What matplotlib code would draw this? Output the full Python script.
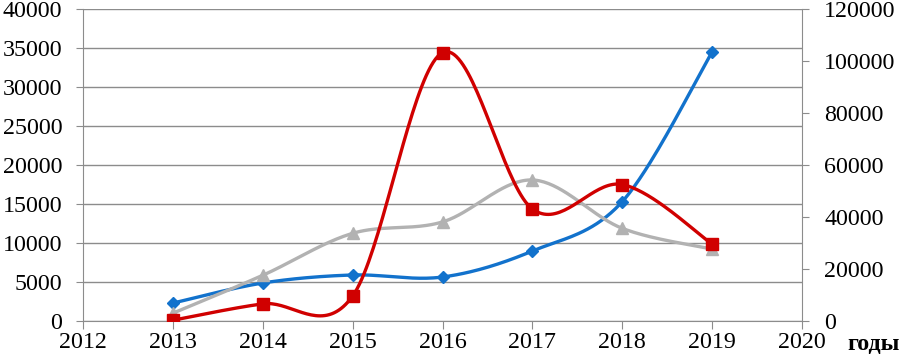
import numpy as np
import matplotlib.pyplot as plt

plt.rcParams['font.family'] = ['Liberation Serif', 'DejaVu Serif']

years = [2013, 2014, 2015, 2016, 2017, 2018, 2019]
blue_vals = [2300, 4870, 5900, 5640, 8970, 15300, 34500]
red_vals = [100, 2200, 3200, 34400, 14360, 17500, 9870]
gray_vals = [1000, 5860, 11240, 12700, 18080, 11880, 9230]

left_ticks = [0, 5000, 10000, 15000, 20000, 25000, 30000, 35000, 40000]
right_ticks = [0, 20000, 40000, 60000, 80000, 100000, 120000]
x_ticks = [2012, 2013, 2014, 2015, 2016, 2017, 2018, 2019, 2020]


def smooth(xs, ys, n=40):
    # Excel-like smoothed line: cubic bezier with catmull-rom control points
    p = np.column_stack([xs, ys]).astype(float)
    out = [p[0]]
    for i in range(len(p) - 1):
        p0 = p[i - 1] if i > 0 else p[i]
        p1, p2 = p[i], p[i + 1]
        p3 = p[i + 2] if i + 2 < len(p) else p[i + 1]
        c1 = p1 + (p2 - p0) / 6
        c2 = p2 - (p3 - p1) / 6
        t = np.linspace(0, 1, n)[1:, None]
        seg = ((1 - t) ** 3 * p1 + 3 * (1 - t) ** 2 * t * c1
               + 3 * (1 - t) * t ** 2 * c2 + t ** 3 * p2)
        out.extend(seg)
    out = np.array(out)
    return out[:, 0], out[:, 1]


fig = plt.figure(figsize=(9.01, 3.54), dpi=100)
ax = fig.add_axes([83 / 901, 33 / 354, 719 / 901, 312 / 354])

grid_c = '#8c8c8c'
fs = 17.3
series = [
    (blue_vals, '#1272cc', 'D', 6.5),
    (gray_vals, '#b2b2b2', '^', 8),
    (red_vals, '#d00000', 's', 8.5),
]
for vals, col, mk, ms in series:
    sx, sy = smooth(years, vals)
    ax.plot(sx, sy, color=col, lw=2.4, solid_capstyle='round', zorder=3)
    ax.plot(years, vals, linestyle='none', marker=mk, ms=ms, color=col,
            markeredgecolor=col, zorder=4)

ax.set_xlim(2012, 2020)
ax.set_ylim(0, 40000)
ax.set_xticks(x_ticks)
ax.set_yticks(left_ticks)
ax.grid(axis='y', color=grid_c, lw=1)
ax.set_axisbelow(True)
for s in ['top', 'right']:
    ax.spines[s].set_visible(False)
for s in ['left', 'bottom']:
    ax.spines[s].set_color(grid_c)
ax.tick_params(axis='both', labelsize=fs, colors=grid_c, labelcolor='black')
ax.tick_params(axis='y', length=5, pad=10)
ax.tick_params(axis='x', length=6, pad=2)

ax2 = ax.twinx()
ax2.set_ylim(0, 120000)
ax2.set_yticks(right_ticks)
for s in ['top', 'left', 'bottom']:
    ax2.spines[s].set_visible(False)
ax2.spines['right'].set_color(grid_c)
ax2.tick_params(axis='y', labelsize=fs, colors=grid_c, labelcolor='black',
                length=5, pad=11)

fig.text(0.999, 4 / 354, 'годы', ha='right', va='baseline', fontsize=fs,
         fontweight='bold')

fig.savefig('out.png', dpi=100)
